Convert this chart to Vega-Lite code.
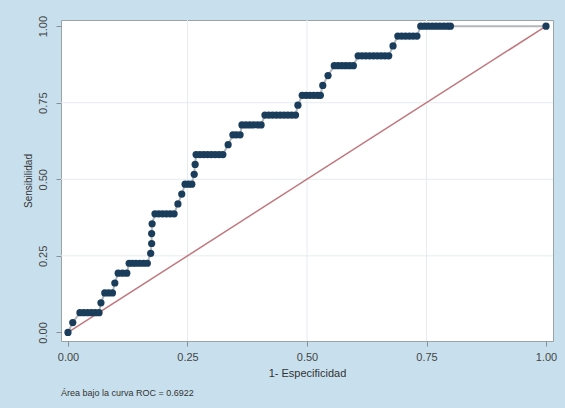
{
  "$schema": "https://vega.github.io/schema/vega-lite/v6.json",
  "width": 492,
  "height": 321,
  "autosize": {"type": "none"},
  "padding": {"left": 61, "top": 20, "right": 12, "bottom": 67},
  "background": "#c8e0ed",
  "title": {"text": "Área bajo la curva ROC = 0.6922", "orient": "bottom", "anchor": "start", "frame": "group", "fontSize": 9, "fontWeight": "normal", "color": "#333333", "font": "Liberation Sans", "offset": 11},
  "config": {
    "view": {"fill": "white", "stroke": "#9aa4a8", "strokeWidth": 1},
    "font": "Liberation Sans"
  },
  "datasets": {
    "grid": [{"v": 0.25}, {"v": 0.5}, {"v": 0.75}],
    "ref": [{"fpr": 0, "tpr": 0}, {"fpr": 1, "tpr": 1}],
    "roc": [
      {"i": 1, "fpr": 0, "tpr": 0},
      {"i": 2, "fpr": 0.010, "tpr": 0.0323},
      {"i": 3, "fpr": 0.025, "tpr": 0.0645},
      {"i": 4, "fpr": 0.033, "tpr": 0.0645},
      {"i": 5, "fpr": 0.041, "tpr": 0.0645},
      {"i": 6, "fpr": 0.049, "tpr": 0.0645},
      {"i": 7, "fpr": 0.057, "tpr": 0.0645},
      {"i": 8, "fpr": 0.065, "tpr": 0.0645},
      {"i": 9, "fpr": 0.069, "tpr": 0.0968},
      {"i": 10, "fpr": 0.077, "tpr": 0.1290},
      {"i": 11, "fpr": 0.085, "tpr": 0.1290},
      {"i": 12, "fpr": 0.093, "tpr": 0.1290},
      {"i": 13, "fpr": 0.098, "tpr": 0.1613},
      {"i": 14, "fpr": 0.105, "tpr": 0.1935},
      {"i": 15, "fpr": 0.114, "tpr": 0.1935},
      {"i": 16, "fpr": 0.123, "tpr": 0.1935},
      {"i": 17, "fpr": 0.128, "tpr": 0.2258},
      {"i": 18, "fpr": 0.135, "tpr": 0.2258},
      {"i": 19, "fpr": 0.142, "tpr": 0.2258},
      {"i": 20, "fpr": 0.150, "tpr": 0.2258},
      {"i": 21, "fpr": 0.158, "tpr": 0.2258},
      {"i": 22, "fpr": 0.166, "tpr": 0.2258},
      {"i": 23, "fpr": 0.173, "tpr": 0.2581},
      {"i": 24, "fpr": 0.175, "tpr": 0.2903},
      {"i": 25, "fpr": 0.175, "tpr": 0.3226},
      {"i": 26, "fpr": 0.176, "tpr": 0.3548},
      {"i": 27, "fpr": 0.182, "tpr": 0.3871},
      {"i": 28, "fpr": 0.190, "tpr": 0.3871},
      {"i": 29, "fpr": 0.198, "tpr": 0.3871},
      {"i": 30, "fpr": 0.206, "tpr": 0.3871},
      {"i": 31, "fpr": 0.214, "tpr": 0.3871},
      {"i": 32, "fpr": 0.222, "tpr": 0.3871},
      {"i": 33, "fpr": 0.230, "tpr": 0.4194},
      {"i": 34, "fpr": 0.238, "tpr": 0.4516},
      {"i": 35, "fpr": 0.245, "tpr": 0.4839},
      {"i": 36, "fpr": 0.252, "tpr": 0.4839},
      {"i": 37, "fpr": 0.259, "tpr": 0.4839},
      {"i": 38, "fpr": 0.264, "tpr": 0.5161},
      {"i": 39, "fpr": 0.266, "tpr": 0.5484},
      {"i": 40, "fpr": 0.268, "tpr": 0.5806},
      {"i": 41, "fpr": 0.276, "tpr": 0.5806},
      {"i": 42, "fpr": 0.284, "tpr": 0.5806},
      {"i": 43, "fpr": 0.292, "tpr": 0.5806},
      {"i": 44, "fpr": 0.300, "tpr": 0.5806},
      {"i": 45, "fpr": 0.308, "tpr": 0.5806},
      {"i": 46, "fpr": 0.316, "tpr": 0.5806},
      {"i": 47, "fpr": 0.324, "tpr": 0.5806},
      {"i": 48, "fpr": 0.335, "tpr": 0.6129},
      {"i": 49, "fpr": 0.345, "tpr": 0.6452},
      {"i": 50, "fpr": 0.352, "tpr": 0.6452},
      {"i": 51, "fpr": 0.360, "tpr": 0.6452},
      {"i": 52, "fpr": 0.364, "tpr": 0.6774},
      {"i": 53, "fpr": 0.372, "tpr": 0.6774},
      {"i": 54, "fpr": 0.380, "tpr": 0.6774},
      {"i": 55, "fpr": 0.388, "tpr": 0.6774},
      {"i": 56, "fpr": 0.396, "tpr": 0.6774},
      {"i": 57, "fpr": 0.404, "tpr": 0.6774},
      {"i": 58, "fpr": 0.412, "tpr": 0.7097},
      {"i": 59, "fpr": 0.420, "tpr": 0.7097},
      {"i": 60, "fpr": 0.428, "tpr": 0.7097},
      {"i": 61, "fpr": 0.436, "tpr": 0.7097},
      {"i": 62, "fpr": 0.444, "tpr": 0.7097},
      {"i": 63, "fpr": 0.452, "tpr": 0.7097},
      {"i": 64, "fpr": 0.460, "tpr": 0.7097},
      {"i": 65, "fpr": 0.468, "tpr": 0.7097},
      {"i": 66, "fpr": 0.476, "tpr": 0.7097},
      {"i": 67, "fpr": 0.481, "tpr": 0.7419},
      {"i": 68, "fpr": 0.490, "tpr": 0.7742},
      {"i": 69, "fpr": 0.498, "tpr": 0.7742},
      {"i": 70, "fpr": 0.506, "tpr": 0.7742},
      {"i": 71, "fpr": 0.514, "tpr": 0.7742},
      {"i": 72, "fpr": 0.522, "tpr": 0.7742},
      {"i": 73, "fpr": 0.528, "tpr": 0.7742},
      {"i": 74, "fpr": 0.533, "tpr": 0.8065},
      {"i": 75, "fpr": 0.544, "tpr": 0.8387},
      {"i": 76, "fpr": 0.557, "tpr": 0.8710},
      {"i": 77, "fpr": 0.565, "tpr": 0.8710},
      {"i": 78, "fpr": 0.573, "tpr": 0.8710},
      {"i": 79, "fpr": 0.581, "tpr": 0.8710},
      {"i": 80, "fpr": 0.589, "tpr": 0.8710},
      {"i": 81, "fpr": 0.597, "tpr": 0.8710},
      {"i": 82, "fpr": 0.607, "tpr": 0.9032},
      {"i": 83, "fpr": 0.615, "tpr": 0.9032},
      {"i": 84, "fpr": 0.623, "tpr": 0.9032},
      {"i": 85, "fpr": 0.631, "tpr": 0.9032},
      {"i": 86, "fpr": 0.639, "tpr": 0.9032},
      {"i": 87, "fpr": 0.647, "tpr": 0.9032},
      {"i": 88, "fpr": 0.655, "tpr": 0.9032},
      {"i": 89, "fpr": 0.663, "tpr": 0.9032},
      {"i": 90, "fpr": 0.671, "tpr": 0.9032},
      {"i": 91, "fpr": 0.680, "tpr": 0.9355},
      {"i": 92, "fpr": 0.690, "tpr": 0.9677},
      {"i": 93, "fpr": 0.698, "tpr": 0.9677},
      {"i": 94, "fpr": 0.706, "tpr": 0.9677},
      {"i": 95, "fpr": 0.714, "tpr": 0.9677},
      {"i": 96, "fpr": 0.722, "tpr": 0.9677},
      {"i": 97, "fpr": 0.730, "tpr": 0.9677},
      {"i": 98, "fpr": 0.738, "tpr": 1},
      {"i": 99, "fpr": 0.746, "tpr": 1},
      {"i": 100, "fpr": 0.754, "tpr": 1},
      {"i": 101, "fpr": 0.762, "tpr": 1},
      {"i": 102, "fpr": 0.770, "tpr": 1},
      {"i": 103, "fpr": 0.778, "tpr": 1},
      {"i": 104, "fpr": 0.786, "tpr": 1},
      {"i": 105, "fpr": 0.794, "tpr": 1},
      {"i": 106, "fpr": 0.800, "tpr": 1},
      {"i": 107, "fpr": 1, "tpr": 1}
    ]
  },
  "layer": [
    {
      "data": {"name": "grid"},
      "mark": {"type": "rule", "color": "#e4ecef", "strokeWidth": 1},
      "encoding": {"x": {"field": "v", "type": "quantitative", "title": "1- Especificidad", "scale": {"domain": [-0.0146, 1.0146], "nice": false, "zero": false},
          "axis": {"title": "1- Especificidad", "values": [0, 0.25, 0.5, 0.75, 1], "format": ".2f", "grid": false, "domain": false,
            "tickColor": "#8a8f92", "tickSize": 5, "labelFontSize": 11, "labelColor": "#444444", "labelPadding": 5,
            "titleFontSize": 11, "titleFontWeight": "normal", "titleColor": "#333333", "titlePadding": 5}}}
    },
    {
      "data": {"name": "grid"},
      "mark": {"type": "rule", "color": "#e4ecef", "strokeWidth": 1},
      "encoding": {"y": {"field": "v", "type": "quantitative", "title": "Sensibilidad", "scale": {"domain": [-0.028, 1.02], "nice": false, "zero": false},
          "axis": {"title": "Sensibilidad", "values": [0, 0.25, 0.5, 0.75, 1], "format": ".2f", "grid": false, "domain": false,
            "tickColor": "#8a8f92", "tickSize": 5, "labelFontSize": 11, "labelColor": "#444444", "labelAngle": 270,
            "labelAlign": "center", "labelBaseline": "bottom", "labelPadding": 8,
            "titleFontSize": 10, "titleFontWeight": "normal", "titleColor": "#333333", "titlePadding": 4}}}
    },
    {
      "data": {"name": "ref"},
      "mark": {"type": "line", "color": "#c0787e", "strokeWidth": 1.5},
      "encoding": {
        "x": {"field": "fpr", "type": "quantitative", "title": "1- Especificidad"},
        "y": {"field": "tpr", "type": "quantitative", "title": "Sensibilidad"}
      }
    },
    {
      "data": {"name": "roc"},
      "mark": {"type": "line", "color": "#b4b8bb", "strokeWidth": 2},
      "encoding": {
        "x": {"field": "fpr", "type": "quantitative", "title": "1- Especificidad"},
        "y": {"field": "tpr", "type": "quantitative", "title": "Sensibilidad"},
        "order": {"field": "i", "type": "quantitative"}
      }
    },
    {
      "data": {"name": "roc"},
      "mark": {"type": "point", "filled": true, "shape": "circle", "size": 52, "color": "#1b3d5c", "opacity": 1},
      "encoding": {
        "x": {"field": "fpr", "type": "quantitative", "title": "1- Especificidad"},
        "y": {"field": "tpr", "type": "quantitative", "title": "Sensibilidad"}
      }
    }
  ]
}
